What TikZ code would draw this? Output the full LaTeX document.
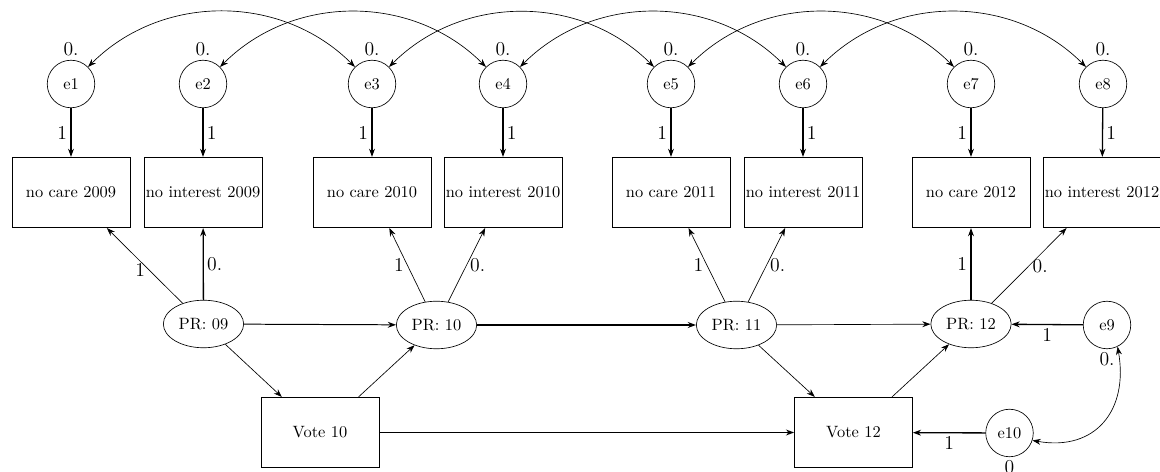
\documentclass[tikz,border=0pt]{standalone}
\usetikzlibrary{arrows.meta,shapes.geometric}

\tikzset{
  err/.style={draw, circle, minimum size=29pt, inner sep=0pt},
  obs/.style={draw, rectangle, minimum width=72pt, minimum height=43pt, inner sep=1pt},
  lat/.style={draw, ellipse, minimum width=49pt, minimum height=29pt, inner sep=1pt},
  lbl/.style={font=\large, inner sep=2pt},
  reg/.style={-{Stealth[length=5pt,width=3.6pt]}},
  cov/.style={{Stealth[length=5pt,width=3.6pt]}-{Stealth[length=5pt,width=3.6pt]}},
}

\begin{document}
\begin{tikzpicture}[x=.61pt, y=-.61pt]
\useasboundingbox (0,0) rectangle (1160,472);
% error terms of the indicators
\node[err, label={[lbl]above:0.}] (e1) at (71,84) {e1};
\node[err, label={[lbl]above:0.}] (e2) at (203,84) {e2};
\node[err, label={[lbl]above:0.}] (e3) at (372,84) {e3};
\node[err, label={[lbl]above:0.}] (e4) at (503,84) {e4};
\node[err, label={[lbl]above:0.}] (e5) at (671,84) {e5};
\node[err, label={[lbl]above:0.}] (e6) at (803,84) {e6};
\node[err, label={[lbl]above:0.}] (e7) at (971,84) {e7};
\node[err, label={[lbl]above:0.}] (e8) at (1103,84) {e8};
% indicators
\node[obs] (care09) at (71,192.5) {no care 2009};
\node[obs] (int09) at (203,192.5) {no interest 2009};
\node[obs] (care10) at (372,192.5) {no care 2010};
\node[obs] (int10) at (503,192.5) {no interest 2010};
\node[obs] (care11) at (671,192.5) {no care 2011};
\node[obs] (int11) at (803,192.5) {no interest 2011};
\node[obs] (care12) at (971,192.5) {no care 2012};
\node[obs] (int12) at (1102,192.5) {no interest 2012};
% latent variables and votes
\node[lat] (pr09) at (203.5,324) {PR: 09};
\node[lat] (pr10) at (436.5,325) {PR: 10};
\node[lat] (pr11) at (736.5,325) {PR: 11};
\node[lat] (pr12) at (971,324) {PR: 12};
\node[obs] (vote10) at (320,432.5) {Vote 10};
\node[obs] (vote12) at (853.5,432.5) {Vote 12};
\node[err, label={[lbl]below:0.}] (e9) at (1107,325) {e9};
\node[err, label={[lbl]below:0}] (e10) at (1009.5,433) {e10};
% covariances
\draw[cov] (e1) to[out=45, in=135] (e3);
\draw[cov] (e2) to[out=45, in=135] (e4);
\draw[cov] (e3) to[out=45, in=135] (e5);
\draw[cov] (e4) to[out=45, in=135] (e6);
\draw[cov] (e5) to[out=45, in=135] (e7);
\draw[cov] (e6) to[out=45, in=135] (e8);
\draw[cov] (e9.-64) to[out=-80, in=-10, looseness=1.3] (e10.-18);
% errors to indicators
\draw[reg, thick] (e1) -- node[lbl, left] {1} (care09);
\draw[reg, thick] (e2) -- node[lbl, right] {1} (int09);
\draw[reg, thick] (e3) -- node[lbl, left] {1} (care10);
\draw[reg, thick] (e4) -- node[lbl, right] {1} (int10);
\draw[reg, thick] (e5) -- node[lbl, left] {1} (care11);
\draw[reg, thick] (e6) -- node[lbl, right] {1} (int11);
\draw[reg, thick] (e7) -- node[lbl, left] {1} (care12);
\draw[reg, thick] (e8) -- node[lbl, right] {1} (int12);
% loadings
\draw[reg] (pr09) -- node[lbl, pos=.45, left] {1} (care09);
\draw[reg, thick] (pr09) -- node[lbl, right] {0.} (int09);
\draw[reg] (pr10) -- node[lbl, left] {1} (care10);
\draw[reg] (pr10) -- node[lbl, right] {0.} (int10);
\draw[reg] (pr11) -- node[lbl, left] {1} (care11);
\draw[reg] (pr11) -- node[lbl, right] {0.} (int11);
\draw[reg, thick] (pr12) -- node[lbl, left] {1} (care12);
\draw[reg] (pr12) -- node[lbl, right] {0.} (int12);
% structural paths
\draw[reg, semithick] (pr09) -- (pr10);
\draw[reg, thick] (pr10) -- (pr11);
\draw[reg] (pr11) -- (pr12);
\draw[reg] (pr09) -- (vote10);
\draw[reg] (vote10) -- (pr10);
\draw[reg] (pr11) -- (vote12);
\draw[reg] (vote12) -- (pr12);
\draw[reg, thick] (vote10) -- (vote12);
\draw[reg, thick] (e9) -- node[lbl, below] {1} (pr12);
\draw[reg, thick] (e10) -- node[lbl, below] {1} (vote12);
\end{tikzpicture}
\end{document}
